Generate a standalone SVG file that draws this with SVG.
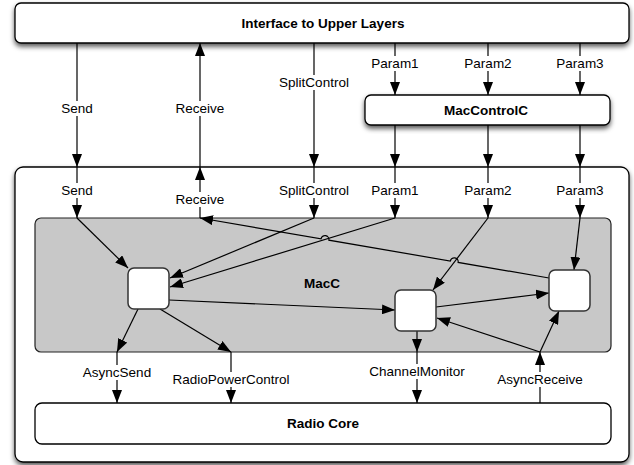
<svg xmlns="http://www.w3.org/2000/svg" width="634" height="465" viewBox="0 0 634 465">
<defs>
<style>
.box{fill:#fff;stroke:#000;stroke-width:1.3}
.shadow{filter:url(#sh)}
.gray{fill:#c8c8c8;stroke:#222;stroke-width:1.2}
.node{fill:#fff;stroke:#333;stroke-width:1.5}
.ln{fill:none;stroke:#000;stroke-width:1.2}
.arr{marker-end:url(#ah)}
.lbl{font-family:"Liberation Sans",Arial,sans-serif;font-size:13.5px;fill:#000;text-anchor:middle}
.ttl{font-family:"Liberation Sans",Arial,sans-serif;font-size:13.5px;font-weight:bold;fill:#000;text-anchor:middle}
.bg{fill:#fff;stroke:none}
</style>
<filter id="sh" x="-10%" y="-30%" width="120%" height="160%">
<feDropShadow dx="0" dy="3" stdDeviation="2.5" flood-color="#000" flood-opacity="0.65"/>
</filter>
<marker id="ah" markerUnits="userSpaceOnUse" markerWidth="13" markerHeight="10" refX="13" refY="5" orient="auto" viewBox="0 0 13 10">
<path d="M0,0 L13,5 L0,10 z" fill="#000"/>
</marker>
</defs>
<rect width="634" height="465" fill="#fff"/>

<g id="container">
<rect class="box shadow" x="15" y="167" width="614" height="295" rx="8"/>
</g>
<g id="macc">
<rect class="gray" x="35" y="218" width="576" height="134" rx="6"/>
<text class="ttl" x="322" y="288">MacC</text>
</g>
<g id="upper">
<rect class="box shadow" x="15" y="3" width="614" height="40" rx="6"/>
<text class="ttl" x="323" y="28">Interface to Upper Layers</text>
</g>
<g id="maccontrol">
<rect class="box shadow" x="365" y="95" width="245" height="30" rx="6"/>
<text class="ttl" x="486" y="115">MacControlC</text>
</g>
<g id="radio">
<rect class="box" x="35" y="403" width="576" height="41" rx="7"/>
<text class="ttl" x="323" y="428">Radio Core</text>
</g>

<g id="connectors">
<!-- upper to container -->
<path class="ln arr" d="M77,43 V167"/>
<path class="ln arr" d="M200,167 V43"/>
<path class="ln arr" d="M314,43 V167"/>
<path class="ln arr" d="M395,43 V95"/>
<path class="ln arr" d="M488,43 V95"/>
<path class="ln arr" d="M580,43 V95"/>
<path class="ln arr" d="M395,125 V167"/>
<path class="ln arr" d="M488,125 V167"/>
<path class="ln arr" d="M580,125 V167"/>
<!-- container to MacC -->
<path class="ln arr" d="M77,167 V218"/>
<path class="ln arr" d="M200,218 V167"/>
<path class="ln arr" d="M314,167 V218"/>
<path class="ln arr" d="M395,167 V218"/>
<path class="ln arr" d="M488,167 V218"/>
<path class="ln arr" d="M580,167 V218"/>
<!-- inside MacC -->
<path class="ln arr" d="M77,218 L128,268"/>
<path class="ln arr" d="M314,218 L170,278"/>
<path class="ln arr" d="M395,218 L170,287"/>
<path class="ln arr" d="M488,218 L433,290"/>
<path class="ln arr" d="M580,218 L574,270"/>
<path class="ln arr" d="M549,278 L458.16,262.39 A4,4 0 0 0 450.28,261.03 L328.89,240.16 A4,4 0 0 0 321.01,238.8 L200,218"/>
<path class="ln arr" d="M169,300 L395,310"/>
<path class="ln arr" d="M436,307 L549,293"/>
<!-- down to radio -->
<path class="ln arr" d="M138,309 L117,352"/>
<path class="ln arr" d="M160,309 L231,352"/>
<path class="ln arr" d="M417,331 V352"/>
<path class="ln arr" d="M117,352 V403"/>
<path class="ln arr" d="M231,352 V403"/>
<path class="ln arr" d="M417,352 V403"/>
<path class="ln arr" d="M540,403 V352"/>
<path class="ln arr" d="M540,352 L559,311"/>
<path class="ln arr" d="M540,352 L437,318"/>

<!-- labels -->
<rect class="bg" x="60" y="101" width="34" height="15"/>
<text class="lbl" x="77" y="113">Send</text>
<rect class="bg" x="174" y="101" width="52" height="15"/>
<text class="lbl" x="200" y="113">Receive</text>
<rect class="bg" x="277" y="75" width="74" height="15"/>
<text class="lbl" x="314" y="87">SplitControl</text>
<rect class="bg" x="370" y="56" width="50" height="15"/>
<text class="lbl" x="395" y="68">Param1</text>
<rect class="bg" x="463" y="56" width="50" height="15"/>
<text class="lbl" x="488" y="68">Param2</text>
<rect class="bg" x="555" y="56" width="50" height="15"/>
<text class="lbl" x="580" y="68">Param3</text>

<rect class="bg" x="60" y="183" width="34" height="15"/>
<text class="lbl" x="77" y="195">Send</text>
<rect class="bg" x="174" y="192" width="52" height="15"/>
<text class="lbl" x="200" y="204">Receive</text>
<rect class="bg" x="277" y="183" width="74" height="15"/>
<text class="lbl" x="314" y="195">SplitControl</text>
<rect class="bg" x="370" y="183" width="50" height="15"/>
<text class="lbl" x="395" y="195">Param1</text>
<rect class="bg" x="463" y="183" width="50" height="15"/>
<text class="lbl" x="488" y="195">Param2</text>
<rect class="bg" x="555" y="183" width="50" height="15"/>
<text class="lbl" x="580" y="195">Param3</text>

<rect class="bg" x="81" y="365" width="72" height="15"/>
<text class="lbl" x="117" y="377">AsyncSend</text>
<rect class="bg" x="171" y="372" width="120" height="15"/>
<text class="lbl" x="231" y="384">RadioPowerControl</text>
<rect class="bg" x="364" y="364" width="106" height="15"/>
<text class="lbl" x="417" y="376">ChannelMonitor</text>
<rect class="bg" x="496" y="372" width="88" height="15"/>
<text class="lbl" x="540" y="384">AsyncReceive</text>
</g>

<g id="node1"><rect class="node" x="128" y="268" width="41" height="41" rx="6"/></g>
<g id="node2"><rect class="node" x="395" y="290" width="41" height="41" rx="6"/></g>
<g id="node3"><rect class="node" x="549" y="270" width="41" height="41" rx="6"/></g>
</svg>
